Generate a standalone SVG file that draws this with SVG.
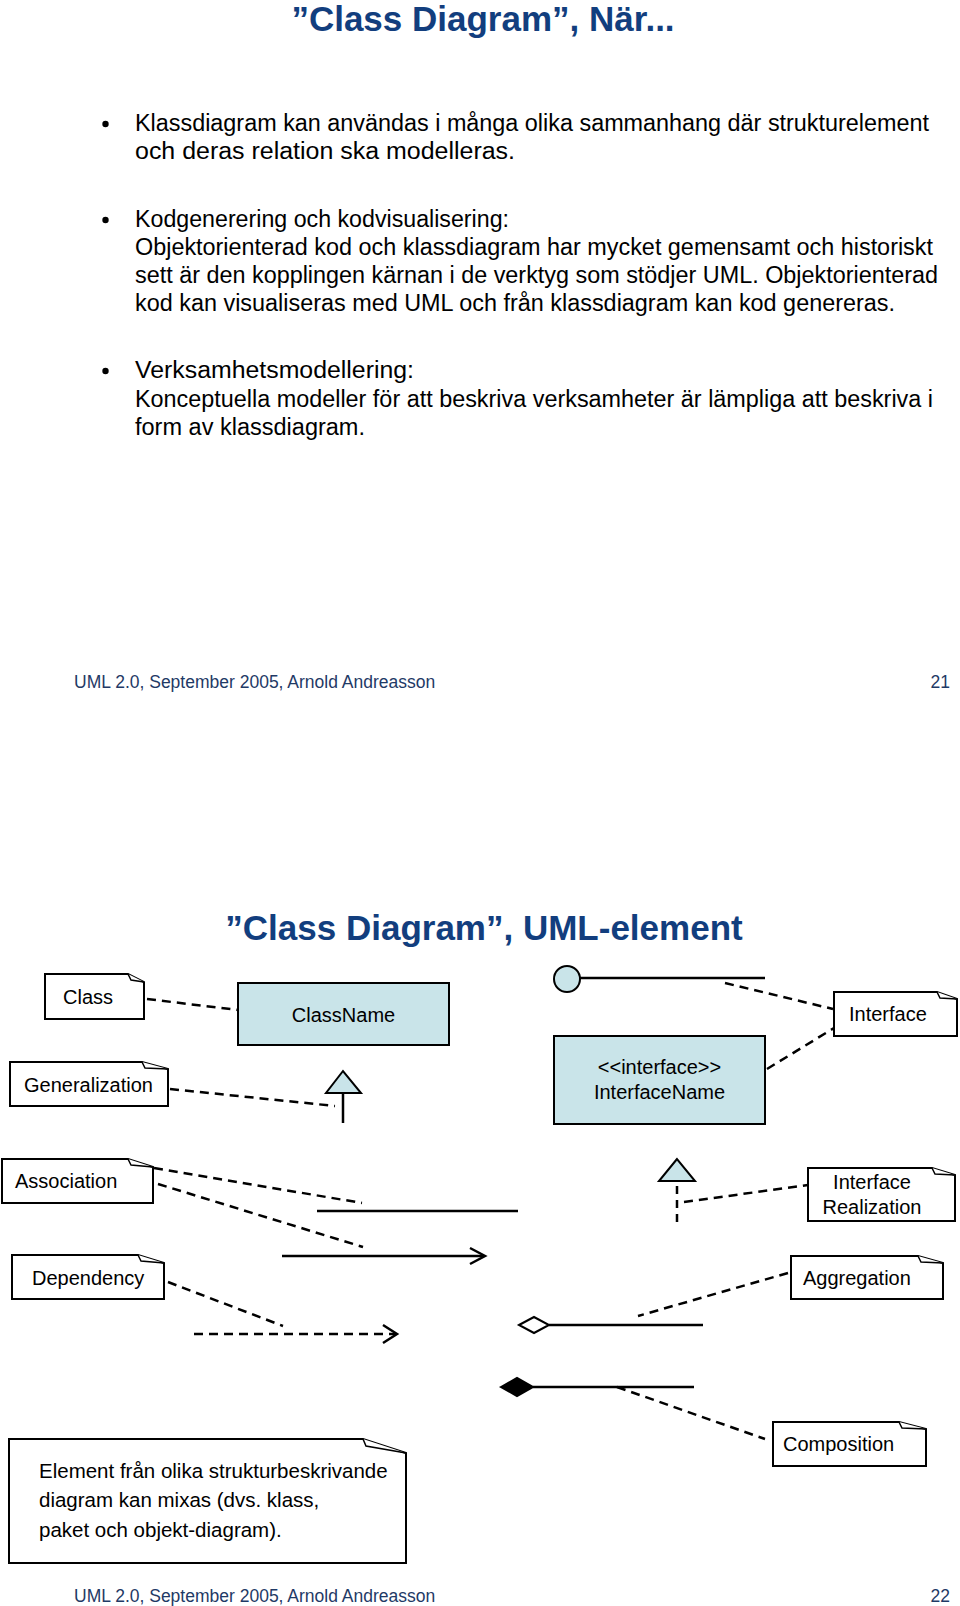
<svg xmlns="http://www.w3.org/2000/svg" width="960" height="1606" viewBox="0 0 960 1606">
<style>
text{font-family:"Liberation Sans",Arial,sans-serif;fill:#000}
.title{font-size:35px;font-weight:bold;fill:#123e7e}
.body{font-size:23px}
.foot{font-size:17.5px;fill:#1f3a66}
.lbl{font-size:20px}
.mix{font-size:20.5px}
.note{fill:#fff;stroke:#000;stroke-width:2}
.fold{fill:#fff;stroke:#000;stroke-width:1.5;stroke-linejoin:miter}
.box{fill:#c9e4e9;stroke:#000;stroke-width:2}
.dash{fill:none;stroke:#000;stroke-width:2.5;stroke-dasharray:9 6}
.solid{fill:none;stroke:#000;stroke-width:2.5}
</style>
<rect width="960" height="1606" fill="#fff"/>

<g id="slide21">
<text class="title" x="483" y="31" text-anchor="middle">”Class Diagram”, När...</text>
<circle cx="105.5" cy="124" r="3.2" fill="#000"/>
<text class="body" x="135" y="131" textLength="794" lengthAdjust="spacingAndGlyphs">Klassdiagram kan användas i många olika sammanhang där strukturelement</text>
<text class="body" x="135" y="159" textLength="380" lengthAdjust="spacingAndGlyphs">och deras relation ska modelleras.</text>
<circle cx="105.5" cy="220" r="3.2" fill="#000"/>
<text class="body" x="135" y="227" textLength="374" lengthAdjust="spacingAndGlyphs">Kodgenerering och kodvisualisering:</text>
<text class="body" x="135" y="255" textLength="798" lengthAdjust="spacingAndGlyphs">Objektorienterad kod och klassdiagram har mycket gemensamt och historiskt</text>
<text class="body" x="135" y="283" textLength="803" lengthAdjust="spacingAndGlyphs">sett är den kopplingen kärnan i de verktyg som stödjer UML. Objektorienterad</text>
<text class="body" x="135" y="311" textLength="760" lengthAdjust="spacingAndGlyphs">kod kan visualiseras med UML och från klassdiagram kan kod genereras.</text>
<circle cx="105.5" cy="371" r="3.2" fill="#000"/>
<text class="body" x="135" y="378" textLength="279" lengthAdjust="spacingAndGlyphs">Verksamhetsmodellering:</text>
<text class="body" x="135" y="407" textLength="798" lengthAdjust="spacingAndGlyphs">Konceptuella modeller för att beskriva verksamheter är lämpliga att beskriva i</text>
<text class="body" x="135" y="435" textLength="230" lengthAdjust="spacingAndGlyphs">form av klassdiagram.</text>
<text class="foot" x="74" y="688">UML 2.0, September 2005, Arnold Andreasson</text>
<text class="foot" x="950" y="688" text-anchor="end">21</text>
</g>

<g id="slide22-title">
<text class="title" x="484" y="940" text-anchor="middle">”Class Diagram”, UML-element</text>
</g>

<g id="connectors">
<line class="dash" x1="147" y1="999" x2="238" y2="1010"/>
<line class="dash" x1="170" y1="1089" x2="335" y2="1106"/>
<line class="dash" x1="725" y1="983" x2="833" y2="1009"/>
<line class="dash" x1="767" y1="1069" x2="834" y2="1028"/>
<line class="dash" x1="154" y1="1168" x2="362" y2="1203"/>
<line class="dash" x1="158" y1="1184" x2="363" y2="1247"/>
<line class="dash" x1="168" y1="1282" x2="283" y2="1326"/>
<line class="dash" x1="684" y1="1202" x2="808" y2="1185"/>
<line class="dash" x1="788" y1="1273" x2="638" y2="1316"/>
<line class="dash" x1="617" y1="1387" x2="765" y2="1439"/>
</g>

<g id="classname">
<rect class="box" x="238" y="983" width="211" height="62"/>
<text class="lbl" x="343.5" y="1022" text-anchor="middle">ClassName</text>
</g>

<g id="interfacename">
<rect class="box" x="554" y="1036" width="211" height="88"/>
<text class="lbl" x="659.5" y="1074" text-anchor="middle">&lt;&lt;interface&gt;&gt;</text>
<text class="lbl" x="659.5" y="1099" text-anchor="middle">InterfaceName</text>
</g>

<g id="lollipop">
<line class="solid" x1="580" y1="978" x2="765" y2="978"/>
<circle cx="567" cy="979" r="13" fill="#c9e4e9" stroke="#000" stroke-width="2"/>
</g>

<g id="generalization-symbol">
<line class="solid" x1="343" y1="1093" x2="343" y2="1123"/>
<polygon points="343,1071 326,1093 361,1093" fill="#c9e4e9" stroke="#000" stroke-width="2"/>
</g>

<g id="association-symbol">
<line class="solid" x1="317" y1="1211" x2="518" y2="1211"/>
<line class="solid" x1="282" y1="1256" x2="484" y2="1256"/>
<polyline class="solid" points="470,1248 485,1256 470,1264"/>
</g>

<g id="dependency-symbol">
<line class="dash" x1="194" y1="1334" x2="395" y2="1334"/>
<polyline class="solid" points="383,1325 397,1334 383,1343"/>
</g>

<g id="realization-symbol">
<line class="dash" x1="677" y1="1186" x2="677" y2="1223" style="stroke-dasharray:8 6"/>
<polygon points="677,1159 659,1181 695,1181" fill="#c9e4e9" stroke="#000" stroke-width="2"/>
</g>

<g id="aggregation-symbol">
<line class="solid" x1="549" y1="1325" x2="703" y2="1325"/>
<polygon points="519,1325 534,1317 549,1325 534,1333" fill="#fff" stroke="#000" stroke-width="2"/>
</g>

<g id="composition-symbol">
<line class="solid" x1="533" y1="1387" x2="694" y2="1387"/>
<polygon points="501,1387 517,1378 533,1387 517,1396" fill="#000" stroke="#000" stroke-width="2"/>
</g>

<g id="note-class">
<path class="note" d="M45,974 H128 L144,982 V1019 H45 Z"/>
<path class="fold" d="M128,974 L131,980 L144,982"/>
<text class="lbl" x="63" y="1004">Class</text>
</g>

<g id="note-generalization">
<path class="note" d="M10,1062 H142 L168,1069 V1106 H10 Z"/>
<path class="fold" d="M142,1062 L145,1068 L168,1069"/>
<text class="lbl" x="24" y="1092">Generalization</text>
</g>

<g id="note-interface">
<path class="note" d="M834,992 H937 L957,999 V1036 H834 Z"/>
<path class="fold" d="M937,992 L940,998 L957,999"/>
<text class="lbl" x="849" y="1021">Interface</text>
</g>

<g id="note-association">
<path class="note" d="M2,1159 H128 L153,1167 V1203 H2 Z"/>
<path class="fold" d="M128,1159 L131,1165 L153,1167"/>
<text class="lbl" x="15" y="1188">Association</text>
</g>

<g id="note-dependency">
<path class="note" d="M12,1255 H138 L164,1263 V1299 H12 Z"/>
<path class="fold" d="M138,1255 L141,1261 L164,1263"/>
<text class="lbl" x="32" y="1285">Dependency</text>
</g>

<g id="note-realization">
<path class="note" d="M808,1168 H932 L955,1175 V1221 H808 Z"/>
<path class="fold" d="M932,1168 L935,1174 L955,1175"/>
<text class="lbl" x="872" y="1189" text-anchor="middle">Interface</text>
<text class="lbl" x="872" y="1214" text-anchor="middle">Realization</text>
</g>

<g id="note-aggregation">
<path class="note" d="M791,1256 H918 L943,1263 V1299 H791 Z"/>
<path class="fold" d="M918,1256 L921,1262 L943,1263"/>
<text class="lbl" x="803" y="1285">Aggregation</text>
</g>

<g id="note-composition">
<path class="note" d="M773,1422 H899 L926,1429 V1466 H773 Z"/>
<path class="fold" d="M899,1422 L902,1428 L926,1429"/>
<text class="lbl" x="783" y="1451">Composition</text>
</g>

<g id="note-mix">
<path class="note" d="M9,1439 H363 L406,1453 V1563 H9 Z"/>
<path class="fold" d="M363,1439 L366,1446 L406,1453"/>
<text class="mix" x="39" y="1478">Element från olika strukturbeskrivande</text>
<text class="mix" x="39" y="1507">diagram kan mixas (dvs. klass,</text>
<text class="mix" x="39" y="1537">paket och objekt-diagram).</text>
</g>

<g id="footer22">
<text class="foot" x="74" y="1602">UML 2.0, September 2005, Arnold Andreasson</text>
<text class="foot" x="950" y="1602" text-anchor="end">22</text>
</g>
</svg>
